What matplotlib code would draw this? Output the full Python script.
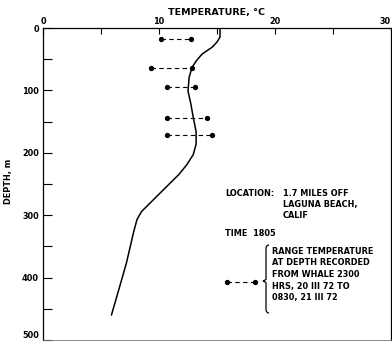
import matplotlib
matplotlib.use("Agg")
import matplotlib.pyplot as plt
from matplotlib.path import Path
from matplotlib.patches import PathPatch

# Temperature profile (deg C) vs depth (m)
profile_temp = [15.26, 15.26, 15.0, 14.6, 13.7, 13.2, 12.85, 12.6, 12.5, 12.75, 12.95, 13.2,
                13.2, 12.95, 12.4, 11.7, 11.1, 9.8, 8.5, 8.1, 7.8, 7.2, 6.6, 5.9]
profile_depth = [0, 14.5, 22.5, 30.5, 42, 53, 63, 79, 101, 122, 143, 166,
                 186, 203, 219, 235, 246, 270, 294, 307, 328, 376, 415, 460]

# Range of temperature at depth recorded from whale
range_depth = [17.7, 64, 95, 145, 172]
range_min = [10.2, 9.3, 10.7, 10.7, 10.7]
range_max = [12.75, 12.85, 13.1, 14.1, 14.6]

x_ticks = [0, 10, 20, 30]
y_ticks = [0, 100, 200, 300, 400, 500]

plt.rcParams['font.family'] = ['DejaVu Sans']
FS = 5.9

W, H = 392, 343
fig = plt.figure(figsize=(W/100, H/100), dpi=100)
ax = fig.add_axes([43/W, 1-340/H, (391-43)/W, (340-28)/H])

ax.plot(profile_temp, profile_depth, color='black', lw=1.1,
        solid_joinstyle='round', solid_capstyle='round')
for d, lo, hi in zip(range_depth, range_min, range_max):
    ax.plot([lo, hi], [d, d], color='black', lw=0.8, ls=(0, (4, 3)))
    ax.plot([lo, hi], [d, d], 'o', color='black', ms=2.8)

ax.set_xlim(0, 30)
ax.set_ylim(500, 0)
ax.xaxis.tick_top()
ax.xaxis.set_label_position('top')
ax.set_xticks(x_ticks)
ax.set_xticks([5, 15, 25], minor=True)
ax.set_yticks(y_ticks)
ax.set_yticks([50, 150, 250, 350, 450], minor=True)
ax.tick_params(axis='x', which='both', direction='in', length=4, width=0.8, pad=1.5,
               labelsize=FS, top=True, bottom=False)
ax.tick_params(axis='y', which='both', direction='in', length=6.5, width=0.8, pad=3,
               labelsize=FS)
for lab in ax.get_xticklabels() + ax.get_yticklabels():
    lab.set_fontweight('bold')
ax.get_xticklabels()[-1].set_ha('right')
ax.get_yticklabels()[-1].set_va('bottom')
ax.set_xlabel('TEMPERATURE, °C', fontsize=6.8, fontweight='bold', labelpad=1.5)
ax.set_ylabel('DEPTH, m', fontsize=FS, fontweight='bold')
ax.yaxis.set_label_coords(-0.085, 0.51)
for s in ['top', 'left', 'right']:
    ax.spines[s].set_linewidth(0.9)
ax.spines['bottom'].set_linewidth(0.6)
ax.spines['bottom'].set_color('#777777')

def fx(x):
    return x / W

def fy(y):
    return 1 - y / H

kw = dict(fontsize=FS, fontweight='bold', ha='left', va='center')
fig.text(fx(225), fy(193), 'LOCATION:', **kw)
fig.text(fx(283), fy(193), '1.7 MILES OFF', **kw)
fig.text(fx(283), fy(204), 'LAGUNA BEACH,', **kw)
fig.text(fx(283), fy(216), 'CALIF', **kw)
fig.text(fx(225), fy(233), 'TIME  1805', **kw)
lines = ['RANGE TEMPERATURE', 'AT DEPTH RECORDED', 'FROM WHALE 2300',
         'HRS, 20 III 72 TO', '0830, 21 III 72']
for i, t in enumerate(lines):
    fig.text(fx(272), fy(251 + i * 11.7), t, **kw)

# legend sample
fig.add_artist(plt.Line2D([fx(227), fx(255)], [fy(282), fy(282)], color='black', lw=0.8,
                          ls=(0, (4, 3)), transform=fig.transFigure))
fig.add_artist(plt.Line2D([fx(227), fx(255)], [fy(282), fy(282)], color='black', lw=0,
                          marker='o', ms=2.8, transform=fig.transFigure))

# brace
bx, top, mid, bot = 266, 245, 281, 313
verts = [(bx+3, top), (bx, top), (bx, top+4), (bx, top+10),
         (bx, mid-8), (bx, mid-2), (bx, mid-1), (bx-3, mid),
         (bx, mid+1), (bx, mid+2), (bx, mid+8),
         (bx, bot-10), (bx, bot-4), (bx, bot), (bx+3, bot)]
codes = [Path.MOVETO, Path.CURVE3, Path.CURVE3, Path.LINETO,
         Path.LINETO, Path.LINETO, Path.CURVE3, Path.CURVE3,
         Path.CURVE3, Path.CURVE3, Path.LINETO,
         Path.LINETO, Path.LINETO, Path.CURVE3, Path.CURVE3]
verts = [(fx(x), fy(y)) for x, y in verts]
fig.add_artist(PathPatch(Path(verts, codes), fill=False, lw=0.9, edgecolor='black',
                         transform=fig.transFigure))

fig.savefig('out.png', dpi=100)
